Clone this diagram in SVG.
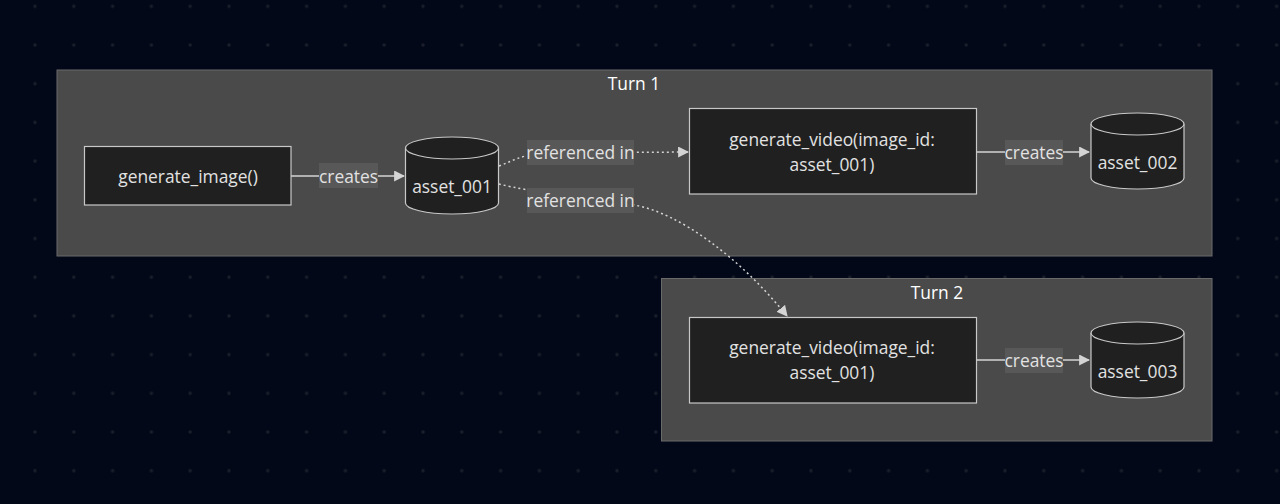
<svg xmlns="http://www.w3.org/2000/svg" width="1280" height="504" viewBox="0 0 1280 504">
<defs>
<pattern id="dots" x="35" y="6.3" width="38.8" height="38.7" patternUnits="userSpaceOnUse">
<circle cx="0" cy="0" r="1.7" fill="#1b1f2b"/><circle cx="38.8" cy="0" r="1.7" fill="#1b1f2b"/><circle cx="0" cy="38.7" r="1.7" fill="#1b1f2b"/><circle cx="38.8" cy="38.7" r="1.7" fill="#1b1f2b"/>
</pattern>
<marker id="arr" viewBox="0 0 10 10" refX="9" refY="5" markerWidth="11" markerHeight="11" markerUnits="userSpaceOnUse" orient="auto">
<path d="M0,0 L10,5 L0,10 z" fill="#d4d4d4"/>
</marker>
</defs>
<style>
text{font-family:"Open Sans","DejaVu Sans",sans-serif;font-size:17.4px;fill:#e2e2e2;text-anchor:middle;dominant-baseline:central}
.cluster{fill:#4a4a4a;stroke:#6a6a6a;stroke-width:1}
.title{fill:#ffffff}
.node{fill:#1f201f;stroke:#c8c8c8;stroke-width:1.2}
.edge{fill:none;stroke:#d4d4d4;stroke-width:1.5}
.dot{stroke-dasharray:2 3}
.lbg{fill:#585858}
</style>
<rect width="1280" height="504" fill="#020818"/>
<rect width="1280" height="504" fill="url(#dots)"/>
<g id="turn1">
<rect class="cluster" x="57" y="70" width="1155" height="186"/>
<text class="title" x="634" y="83">Turn 1</text>
</g>
<g id="turn2">
<rect class="cluster" x="661.5" y="278.5" width="550.5" height="162.5"/>
<text class="title" x="937" y="292">Turn 2</text>
</g>
<g id="connectors">
<path class="edge" d="M291,176 L404,176" marker-end="url(#arr)"/>
<path class="edge dot" d="M499,166 C512,161 520,156 540,153 L688,152" marker-end="url(#arr)"/>
<path class="edge dot" d="M499,184 C530,192 590,198 634,205 C680,213 740,258 787,316" marker-end="url(#arr)"/>
<path class="edge" d="M976,152 L1089,152" marker-end="url(#arr)"/>
<path class="edge" d="M976,360 L1089,360" marker-end="url(#arr)"/>
<rect class="lbg" x="319" y="163" width="59" height="25"/>
<text x="348.5" y="175.5">creates</text>
<rect class="lbg" x="527" y="140" width="107" height="25"/>
<text x="580.5" y="152">referenced in</text>
<rect class="lbg" x="527" y="188" width="107" height="25"/>
<text x="580.5" y="200">referenced in</text>
<rect class="lbg" x="1005" y="140" width="58" height="25"/>
<text x="1034" y="151.5">creates</text>
<rect class="lbg" x="1005" y="348" width="58" height="25"/>
<text x="1034" y="359.5">creates</text>
</g>
<g id="generate_image">
<rect class="node" x="84.5" y="146.5" width="206.5" height="58.5"/>
<text x="188" y="176">generate_image()</text>
</g>
<g id="asset_001">
<path class="node" d="M405.5,148 A46.5,11 0 0 1 498.5,148 L498.5,203 A46.5,11 0 0 1 405.5,203 Z"/>
<path class="node" fill="none" d="M405.5,148 A46.5,11 0 0 0 498.5,148"/>
<text x="452" y="186">asset_001</text>
</g>
<g id="video1">
<rect class="node" x="689.5" y="108.5" width="287" height="85.5"/>
<text x="832" y="139">generate_video(image_id:</text>
<text x="832" y="164">asset_001)</text>
</g>
<g id="asset_002">
<path class="node" d="M1091,124 A46.5,11 0 0 1 1184,124 L1184,178 A46.5,11 0 0 1 1091,178 Z"/>
<path class="node" fill="none" d="M1091,124 A46.5,11 0 0 0 1184,124"/>
<text x="1137.5" y="162">asset_002</text>
</g>
<g id="video2">
<rect class="node" x="689.5" y="317.5" width="287" height="85.5"/>
<text x="832" y="347">generate_video(image_id:</text>
<text x="832" y="372">asset_001)</text>
</g>
<g id="asset_003">
<path class="node" d="M1091,333 A46.5,11 0 0 1 1184,333 L1184,387 A46.5,11 0 0 1 1091,387 Z"/>
<path class="node" fill="none" d="M1091,333 A46.5,11 0 0 0 1184,333"/>
<text x="1137.5" y="371">asset_003</text>
</g>
</svg>
